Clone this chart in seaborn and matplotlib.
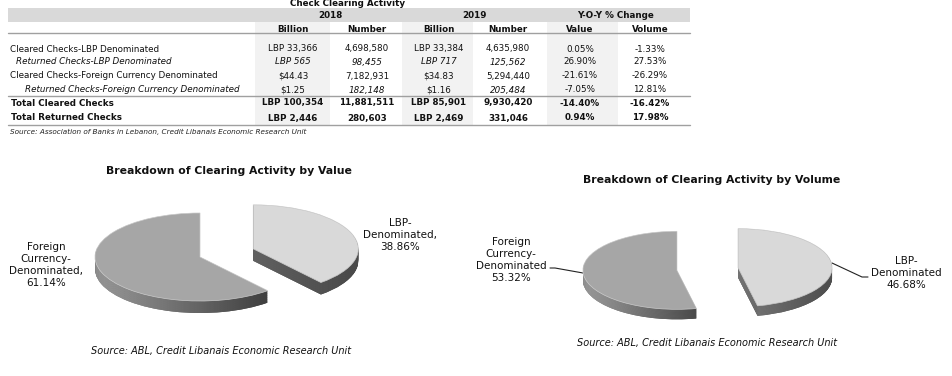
import numpy as np
import matplotlib
matplotlib.use("Agg")
import matplotlib.pyplot as plt
import seaborn as sns
from matplotlib.colors import LinearSegmentedColormap
from matplotlib.patches import Rectangle

# ---- table data ----
table_title = "Check Clearing Activity"
years = ["2018", "2019", "Y-O-Y % Change"]
sub_heads = ["Billion", "Number", "Billion", "Number", "Value", "Volume"]
row_labels = ["Cleared Checks-LBP Denominated",
              "Returned Checks-LBP Denominated",
              "Cleared Checks-Foreign Currency Denominated",
              "Returned Checks-Foreign Currency Denominated",
              "Total Cleared Checks",
              "Total Returned Checks"]
bil_2018 = ["LBP 33,366", "LBP 565", "$44.43", "$1.25", "LBP 100,354", "LBP 2,446"]
num_2018 = ["4,698,580", "98,455", "7,182,931", "182,148", "11,881,511", "280,603"]
bil_2019 = ["LBP 33,384", "LBP 717", "$34.83", "$1.16", "LBP 85,901", "LBP 2,469"]
num_2019 = ["4,635,980", "125,562", "5,294,440", "205,484", "9,930,420", "331,046"]
yoy_value = ["0.05%", "26.90%", "-21.61%", "-7.05%", "-14.40%", "0.94%"]
yoy_volume = ["-1.33%", "27.53%", "-26.29%", "12.81%", "-16.42%", "17.98%"]
table_source = "Source: Association of Banks in Lebanon, Credit Libanais Economic Research Unit"

# ---- pie data ----
slices = ["LBP-Denominated", "Foreign Currency-Denominated"]
value_share = [38.86, 61.14]
volume_share = [46.68, 53.32]
value_title = "Breakdown of Clearing Activity by Value"
volume_title = "Breakdown of Clearing Activity by Volume"
pie_source = "Source: ABL, Credit Libanais Economic Research Unit"

sns.set_theme(style="white")
plt.rcParams['font.family'] = ['DejaVu Sans']
plt.rcParams['text.color'] = '#111111'

W, H = 952, 376
fig = plt.figure(figsize=(W / 100, H / 100), dpi=100)
fig.patch.set_facecolor("white")

# pixel-space axes for table and annotations
tab = fig.add_axes([0, 0, 1, 1])
tab.set_xlim(0, W)
tab.set_ylim(H, 0)
tab.axis("off")

fs = 6.3
tab.text(348, 4, table_title, ha="center", va="center", fontsize=6.3, fontweight="bold")
tab.add_patch(Rectangle((8, 8), 682, 14, color="#d9d9d9", lw=0))
for x0, w in [(255, 75), (402, 71), (547, 71)]:
    tab.add_patch(Rectangle((x0, 22), w, 103, color="#f2f2f2", lw=0))
for y in [33, 96, 125]:
    tab.plot([8, 690], [y, y], color="#a0a0a0", lw=1)

for x, t in zip([330, 474, 615], years):
    tab.text(x, 15, t, ha="center", va="center", fontsize=fs, fontweight="bold")
col_x = [293, 367, 439, 508, 580, 650]
for x, t in zip(col_x, sub_heads):
    tab.text(x, 29, t, ha="center", va="center", fontsize=fs, fontweight="bold")

row_y = [49, 62, 76, 90, 103, 118]
label_x = [10, 16, 10, 25, 11, 11]
columns = [bil_2018, num_2018, bil_2019, num_2019, yoy_value, yoy_volume]
for i, lab in enumerate(row_labels):
    bold = "bold" if i >= 4 else "normal"
    ital = "italic" if i in (1, 3) else "normal"
    tab.text(label_x[i], row_y[i], lab, ha="left", va="center", fontsize=fs,
             fontweight=bold, fontstyle=ital)
    for j, col in enumerate(columns):
        it = "italic" if (i == 1 and j < 4) or (i == 3 and j in (1, 3)) else "normal"
        tab.text(col_x[j], row_y[i], col[i], ha="center", va="center", fontsize=fs,
                 fontweight=bold, fontstyle=it)
tab.text(10, 132, table_source, ha="left", va="center", fontsize=5.2, fontstyle="italic",
         color="#222222")


def pie3d(shares, cx, cy, rx, ry, depth, explode, tops, sides):
    ax = fig.add_axes([0, 0, 1, 1])
    d = depth / ry
    n = 18
    grad = np.linspace(0, 1, 256).reshape(1, -1)
    for k in range(n, 0, -1):
        wedges, _ = ax.pie(shares, explode=explode, colors=[s[1] for s in sides],
                           startangle=90, counterclock=False, center=(0, -d * k / n),
                           wedgeprops=dict(linewidth=0))
        for w, (c0, c1) in zip(wedges, sides):
            ext = w.get_path().get_extents()
            cmap = LinearSegmentedColormap.from_list("side", [c0, c1])
            im = ax.imshow(grad, cmap=cmap, extent=(ext.x0, ext.x1, -5, 5),
                           aspect="auto", zorder=1)
            im.set_clip_path(w)
    ax.pie(shares, explode=explode, colors=tops, startangle=90, counterclock=False,
           wedgeprops=dict(linewidth=0.5, edgecolor="#c8c8c8"))
    ax.set_aspect("auto")
    ax.set_xlim(-cx / rx, (W - cx) / rx)
    ax.set_ylim(-(H - cy) / ry, cy / ry)
    ax.axis("off")
    return ax


tops = ["#d9d9d9", "#a6a6a6"]
pie3d(value_share, 200, 257, 105, 44, 12, [0.54, 0.0], tops,
      [("#6a6a6a", "#4a4a4a"), ("#b8b8b8", "#404040")])
pie3d(volume_share, 707.5, 269, 94, 39, 10, [0.327, 0.327], tops,
      [("#8a8a8a", "#4e4e4e"), ("#bdbdbd", "#4a4a4a")])

lfs = 7.5
tab.text(229, 171, value_title, ha="center", va="center", fontsize=7.8, fontweight="bold")
tab.text(46, 265, f"Foreign\nCurrency-\nDenominated,\n{value_share[1]:.2f}%",
         ha="center", va="center", fontsize=lfs, linespacing=1.28)
tab.text(400, 235, f"LBP-\nDenominated,\n{value_share[0]:.2f}%",
         ha="center", va="center", fontsize=lfs, linespacing=1.28)
tab.text(221, 351, pie_source, ha="center", va="center", fontsize=7, fontstyle="italic")

tab.text(712, 180, volume_title, ha="center", va="center", fontsize=7.8, fontweight="bold")
tab.text(511, 260, f"Foreign\nCurrency-\nDenominated\n{volume_share[1]:.2f}%",
         ha="center", va="center", fontsize=lfs, linespacing=1.28)
tab.text(906, 273, f"LBP-\nDenominated\n{volume_share[0]:.2f}%",
         ha="center", va="center", fontsize=lfs, linespacing=1.28)
tab.plot([550, 555, 583], [268, 268, 273], color="#222222", lw=0.8)
tab.plot([832, 862, 868], [263, 277, 277], color="#222222", lw=0.8)
tab.text(707, 343, pie_source, ha="center", va="center", fontsize=7, fontstyle="italic")

fig.savefig("out.png", dpi=100)
